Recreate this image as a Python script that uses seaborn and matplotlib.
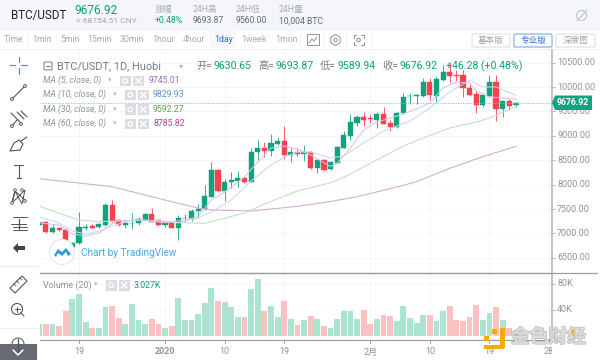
import numpy as np
import pandas as pd
import seaborn as sns
import matplotlib
matplotlib.use("Agg")
import matplotlib.pyplot as plt
import matplotlib.patheffects as pe
from matplotlib.patches import Rectangle, Circle, Polygon, FancyBboxPatch
from matplotlib.transforms import Bbox

sns.set_theme(style="white")
plt.rcParams['font.family'] = ['Roboto', 'Noto Sans CJK SC', 'DejaVu Sans']

# ---- data ----
days = list(range(-6, 67))
open_ = [7180,7226,7021,7110,7076,6714,6796,7117,7145,7124,7172,7575,7274,7172,7213,7213,7274,7390,7267,7165,7233,7104,7308,7295,7459,
         7507,7753,8300,7876,8054,8081,8142,8060,8661,8757,8689,8832,8894,8614,8668,8634,8661,8334,8504,8313,8436,8757,9000,9270,9385,
         9358,9324,9440,9263,9188,9461,9816,9823,9816,10096,9823,10144,10301,10246,10246,9987,9850,9632,9823,10110,9550,9713,9630.65]
high = [7250,7261,7192,7131,7104,6830,7431,7192,7192,7206,7616,7684,7288,7261,7425,7343,7411,7513,7288,7254,7247,7377,7390,7493,7609,
        7992,8470,8320,8115,8252,8279,8163,8757,8907,8873,9030,8982,9194,8757,8743,8818,8696,8525,8518,8491,8791,9100,9447,9433,9481,
        9447,9488,9597,9331,9481,9870,9870,9864,10178,10178,10226,10451,10506,10349,10342,10062,9918,9870,10246,10246,9730,9748,9693.87]
low = [7150,7001,7001,7042,6830,6470,6776,7069,7104,7117,7151,7240,7151,7104,7083,7172,7254,7226,7158,7138,7104,6871,7233,7254,7322,
       7480,7740,7856,7671,7924,7958,8040,8047,8504,8573,8593,8812,8518,8470,8593,8491,8327,8245,8279,8300,8436,8743,8914,9208,9208,
       9270,9167,9235,9106,9153,9447,9652,9659,9802,9734,9700,10123,10096,10123,9802,9816,9467,9584,9802,9310,9392,9529,9589.94]
close = [7230,7021,7104,7069,6851,6810,7138,7138,7117,7185,7588,7247,7172,7220,7220,7288,7390,7240,7172,7226,7117,7308,7315,7459,7506,
         7760,8300,7876,8054,8088,8142,8054,8668,8757,8689,8846,8894,8614,8668,8627,8661,8340,8504,8300,8457,8771,9017,9276,9379,9324,
         9338,9440,9249,9188,9474,9789,9823,9836,10096,9836,10157,10301,10232,10232,9987,9836,9632,9836,10110,9550,9713,9611,9676.92]
volume = [18,18,18,16,38,56.5,64.5,21,12,13,44.5,46,27,18,49,25,18,26,19,13,15,58.5,25,25,34,
          50,73.5,53.5,52,44.5,28.5,28.5,72.5,87,39,45.5,29,54,26,16.5,24,30,26,15.5,12,26,39,38,26,40,
          19,26,31.5,30,23.5,45.5,27,20.5,32.5,32.5,22.5,38,46.5,25,22.5,28.5,48,25,34.5,44.5,25,13,3.027]

ma5_d = [-6,-3,-1,1,3,5,6,10,13,16,18,20,22,25,27,29,31,33,35,38,39,41,43,45,48,51,53,55,57,59,60,62,64,66]
ma5_v = [7219,7172,6988,6947,7008,7193,7254,7275,7219,7275,7347,7685,7848,8156,8463,8750,8791,8730,8607,8371,8443,8750,9119,9283,9406,9549,9672,9980,10102,10082,9918,9795,9775,9745.01]
ma10_d = [-6,-3,-1,1,3,5,8,12,15,18,20,23,26,29,31,33,35,38,40,43,46,50,53,56,59,61,63,66]
ma10_v = [7336,7213,7049,6988,7049,7152,7275,7260,7219,7316,7439,7685,8074,8402,8566,8668,8668,8545,8586,8853,9098,9303,9570,9898,10143,10000,10000,9829.93]
ma30_d = [-6,-3,0,3,9,15,19,25,28,33,38,40,44,49,52,56,60,62,64,66]
ma30_v = [7561,7412,7275,7240,7275,7219,7207,7418,7602,7869,8039,8150,8436,8791,8955,9160,9283,9365,9482,9592.27]
ma60_d = [-6,5,14,18,20,26,33,38,42,44,48,51,56,60,63,66]
ma60_v = [8121,7957,7650,7520,7480,7459,7555,7654,7752,7818,7951,8060,8334,8525,8658,8785.82]

price_ticks = [10500, 10000, 9500, 9000, 8500, 8000, 7500, 7000, 6500]
vol_ticks = [80, 40]
date_ticks = [0, 13, 22, 31, 44, 53, 62, 71]
date_labels = ["19", "2020", "10", "19", "2月", "10", "19", "28"]
last_price = 9676.92

GREEN, RED = "#10A37E", "#F2434F"
VG, VR = "#ACE3D1", "#FCC2C2"
MA5C, MA10C, MA30C, MA60C = "#D6C3E6", "#C8D9F1", "#C3E0BE", "#D5A9CF"
GRAY = "#9A9DA5"

df = pd.DataFrame({"day": days, "open": open_, "high": high, "low": low, "close": close, "volume": volume})
df["dir"] = np.where(df["close"] >= df["open"], "up", "down")

W, H = 600, 360
fig = plt.figure(figsize=(6, 3.6), dpi=100, facecolor="white")

def axpx(x0, y0, x1, y1, **kw):
    return fig.add_axes([x0 / W, 1 - y1 / H, (x1 - x0) / W, (y1 - y0) / H], **kw)

ax = axpx(40, 49, 552, 273)
vx = axpx(40, 273, 552, 340)
xlim = (-5.89, 71.45)

# ---- price pane ----
ax.set_xlim(xlim)
ax.set_ylim(6189, 10779)
ax.set_yticks(price_ticks)
ax.set_xticks(date_ticks)
ax.grid(True, color="#F5F6F8", lw=0.7)
ax.tick_params(length=0, labelbottom=False, labelleft=False)
cols = df["dir"].map({"up": GREEN, "down": RED}).tolist()
ax.vlines(df["day"], df["low"], df["high"], colors=cols, lw=0.7, alpha=0.85, zorder=3)
ax.bar(df["day"], (df["close"] - df["open"]).abs(), bottom=df[["open", "close"]].min(axis=1),
       width=0.78, color=cols, edgecolor=cols, linewidth=0.3, zorder=4)
for d, v, c in [(ma60_d, ma60_v, MA60C), (ma30_d, ma30_v, MA30C), (ma10_d, ma10_v, MA10C), (ma5_d, ma5_v, MA5C)]:
    sns.lineplot(x=d, y=v, color=c, lw=0.75, ax=ax, estimator=None, sort=False, zorder=5)
ax.axhline(last_price, color="#6FCDB4", lw=0.6, ls=(0, (1.5, 1.5)), zorder=6)
ax.set_xlabel(""); ax.set_ylabel("")
for s in ax.spines.values():
    s.set_visible(False)

# ---- volume pane ----
sns.barplot(data=df, x="day", y="volume", hue="dir", native_scale=True, dodge=False, width=0.88,
            palette={"up": VG, "down": VR}, legend=False, ax=vx, saturation=1, zorder=3,
            linewidth=0, edgecolor="none")
vx.set_xlim(xlim)
vx.set_ylim(-6.15, 96.5)
vx.set_xticks(date_ticks)
vx.set_yticks(vol_ticks)
vx.grid(True, color="#F5F6F8", lw=0.7)
vx.set_axisbelow(True)
vx.tick_params(length=0, labelbottom=False, labelleft=False)
vx.set_xlabel(""); vx.set_ylabel("")
for s in vx.spines.values():
    s.set_visible(False)
vx.spines["top"].set_visible(True); vx.spines["top"].set_color(GRAY); vx.spines["top"].set_linewidth(0.9)
vx.spines["bottom"].set_visible(True); vx.spines["bottom"].set_color(GRAY); vx.spines["bottom"].set_linewidth(0.9)

# ---- overlay in pixel space: axis labels, header, toolbar ----
ov = fig.add_axes([0, 0, 1, 1], facecolor="none")
ov.set_xlim(0, W); ov.set_ylim(H, 0); ov.axis("off")

def T(x, y, s, size=6.2, color="#8F929A", ha="left", **kw):
    return ov.text(x, y, s, fontsize=size, color=color, ha=ha, va="center", **kw)

def L(xs, ys, color="#50535E", lw=0.8, **kw):
    ov.plot(xs, ys, color=color, lw=lw, solid_capstyle="round", **kw)

def R(x, y, w, h, **kw):
    ov.add_patch(Rectangle((x, y), w, h, **kw))

def price_y(p):
    return 49 + (10779 - p) / (10779 - 6189) * 224

def vol_y(v):
    return 273 + (96.5 - v) / (96.5 + 6.15) * 67

# header / tabs
R(0, 0, 600, 30.5, color="#F4F6F9", lw=0)
L([0, 600], [48.5, 48.5], color="#EDEFF2", lw=0.7)
T(11, 15.5, "BTC/USDT", size=8.4, color="#1E2026")
T(74, 10.5, "9676.92", size=8.6, color="#0E9E78")
T(76, 20.8, "≈ 68754.51 CNY", size=6, color="#A4A7AE")
for x, a, b, c in [(155, "涨幅", "+0.48%", "#0E9E78"), (193, "24H高", "9693.87", "#666972"),
                   (236, "24H低", "9560.00", "#666972"), (279, "24H量", "10,004 BTC", "#666972")]:
    T(x, 9.5, a, size=6.3, color="#A8ABB2")
    T(x, 20.8, b, size=6.2, color=c)
ov.add_patch(Circle((581.5, 15.5), 5, fc="none", ec="#C6C9CE", lw=0.9))
L([577, 587], [21, 10], color="#C6C9CE", lw=0.9)

R(209, 31, 27, 17, color="#F6F8FB", lw=0)
for x, s in [(4, "Time"), (32, "1min"), (60, "5min"), (87, "15min"), (120, "30min"), (152, "1hour"),
             (183, "4hour"), (214, "1day"), (241, "1week"), (275, "1mon")]:
    T(x, 39.5, s, size=6.3, color="#3E6FC4" if s == "1day" else "#A8ABB2")
for x in [27, 300, 323, 346, 371]:
    L([x, x], [32, 47], color="#F0F1F4", lw=0.6)
R(307, 34, 12, 11, fc="none", ec="#8E9199", lw=0.7)
L([309, 312, 314, 317], [43, 39, 41, 37], color="#8E9199", lw=0.7)
th = np.linspace(0, 2 * np.pi, 7) + np.pi / 6
ov.add_patch(Polygon(np.c_[335.5 + 5.5 * np.cos(th), 40 + 5.5 * np.sin(th)], fc="none", ec="#8E9199", lw=0.7))
ov.add_patch(Circle((335.5, 40), 1.8, fc="none", ec="#8E9199", lw=0.7))
for sx in (-1, 1):
    for sy in (-1, 1):
        L([358.5 + sx * 5, 358.5 + sx * 5, 358.5 + sx * 2.5], [40 + sy * 2, 40 + sy * 5, 40 + sy * 5], color="#8E9199", lw=0.7)
ov.add_patch(Circle((358.5, 40), 1.8, fc="none", ec="#8E9199", lw=0.7))
for x0, x1, s, ec, c in [(472, 510, "基本版", "#DDDFE3", "#A0A3AA"), (514, 552, "专业版", "#7EA6E0", "#3E6FC4"),
                         (556, 595, "深度图", "#DDDFE3", "#A0A3AA")]:
    ov.add_patch(FancyBboxPatch((x0, 34), x1 - x0, 13, boxstyle="round,pad=0,rounding_size=1.5", fc="white", ec=ec, lw=0.8))
    T((x0 + x1) / 2, 40.5, s, size=6.2, color=c, ha="center")

# chart legend
ov.add_patch(FancyBboxPatch((44, 62), 8, 8, boxstyle="round,pad=0,rounding_size=1", fc="none", ec="#787B86", lw=0.7))
L([46, 50], [66, 66], color="#787B86", lw=0.7)
T(57, 66, "BTC/USDT, 1D, Huobi", size=7.9, color="#787B86")
T(179, 66, "▾", size=6, color="#B4B7BE")
for x, lab, xv, val in [(196, "开=", 213, "9630.65"), (258, "高=", 275, "9693.87"),
                        (320, "低=", 338, "9589.94"), (382, "收=", 400, "9676.92")]:
    T(x, 66, lab, size=7.4, color="#787B86")
    T(xv, 66, val, size=7.6, color="#0E9E78")
T(446, 66, "+46.28 (+0.48%)", size=7.6, color="#0E9E78")

def box_icons(x1, x2, y):
    for x in (x1, x2):
        R(x, y - 5, 10.5, 10.5, color="#DCDDE0", lw=0)
    ov.add_patch(Circle((x1 + 5.2, y + 0.2), 2.2, fc="none", ec="white", lw=0.9))
    L([x2 + 2.5, x2 + 8], [y - 2.5, y + 3], color="white", lw=1)
    L([x2 + 8, x2 + 2.5], [y - 2.5, y + 3], color="white", lw=1)

for y, s, xa, x1, x2, xv, val, c in [
    (80.7, "MA (5, close, 0)", 108, 120, 133, 149, "9745.01", "#9A6BBE"),
    (94.7, "MA (10, close, 0)", 113, 125, 138, 153, "9829.93", "#5E92CC"),
    (109.3, "MA (30, close, 0)", 113, 125, 138, 153, "9592.27", "#5F9E52"),
    (123.7, "MA (60, close, 0)", 113, 125, 138, 153, "8785.82", "#A8459A")]:
    T(43, y, s, size=6.3, color="#8F929A", style="italic")
    T(xa, y, "▾", size=5, color="#B4B7BE")
    box_icons(x1, x2, y)
    T(xv, y, val, size=6.3, color=c)
T(43, 285, "Volume (20)", size=6.4)
T(94, 285, "▾", size=5, color="#B4B7BE")
box_icons(106, 119, 285)
T(134, 285, "3.027K", size=6.3, color="#0E9E78")

# TradingView badge
ov.add_patch(Circle((62, 252), 12.5, fc="white", ec="#E4E6EA", lw=0.8, zorder=6))
ov.add_patch(Polygon([[54, 255], [58, 249], [62, 252], [66, 248], [71, 254], [68, 256], [66, 252], [62, 256], [58, 253], [56, 257]],
                     fc="#2E9BE0", ec="none", zorder=7))
T(81, 253, "Chart by TradingView", size=7.2, color="#4CA6E2", zorder=7)

# right axis
L([552, 552], [50, 340], color="#B6B9C0", lw=1.2)
L([40, 597], [273, 273], color=GRAY, lw=0.9)
for p in price_ticks:
    y = price_y(p)
    L([552, 555], [y, y], color="#B6B9C0", lw=0.7)
    T(557, y, f"{p:.2f}", size=6.5)
for v in vol_ticks:
    y = vol_y(v)
    L([552, 555], [y, y], color="#B6B9C0", lw=0.7)
    T(557, y, f"{v}K", size=6.5)
ov.add_patch(Polygon([[552, price_y(last_price)], [555, 95.5], [592, 95.5], [592, 110], [555, 110]], fc="#12A37F", ec="none", zorder=6))
T(557, price_y(last_price), f"{last_price:.2f}", size=6.3, color="white", weight="bold", zorder=7)

# x tick labels
for d, s in zip(date_ticks, date_labels):
    x = 40 + (d - xlim[0]) / (xlim[1] - xlim[0]) * 512
    L([x, x], [340, 342.5], color=GRAY, lw=0.7)
    t = T(x, 352, s, size=6.5, ha="center", weight="bold" if s == "2020" else "normal")
    if d == 71:
        t.set_clip_on(True)
        t.set_clip_box(Bbox([[0, 0], [552, H]]))

# left toolbar
C = "#50535E"
B = "#3E9CC4"
L([10, 15], [65, 65], color=B, lw=0.9); L([21, 27], [65, 65], color=B, lw=0.9)
L([18.5, 18.5], [57, 62], color=B, lw=0.9); L([18.5, 18.5], [68, 74], color=B, lw=0.9)
L([13, 24], [98, 87], color=C)
ov.add_patch(Circle((12, 99), 1.4, fc="white", ec=C, lw=0.7, zorder=4))
ov.add_patch(Circle((25, 86), 1.4, fc="white", ec=C, lw=0.7, zorder=4))
L([11, 21], [113, 123], color=C); L([17, 24], [112, 119], color=C); L([21, 27], [111, 117], color=C); L([12, 17], [126, 120], color=C)
ov.add_patch(Circle((12, 126), 1.4, fc="white", ec=C, lw=0.7, zorder=4))
ov.add_patch(Circle((21, 124), 1.4, fc="white", ec=C, lw=0.7, zorder=4))
ov.add_patch(Polygon([[10, 151], [14, 143], [19, 140], [23, 144], [20, 150]], fc="none", ec=C, lw=0.8))
L([21, 27], [141, 137], color=C)
L([18.5, 18.5], [165, 178], color=C); L([14, 23], [165, 165], color=C); L([16.5, 20.5], [178, 178], color=C)
L([12, 15, 22, 25, 19, 12, 15, 25], [203, 191, 204, 190, 196, 203, 191, 200], color=C, lw=0.7)
for xc, yc in [(15, 190), (12, 203), (22, 190), (25, 201)]:
    ov.add_patch(Circle((xc, yc), 1.3, fc="white", ec=C, lw=0.6, zorder=4))
for yy in (217, 227, 230):
    L([13, 27], [yy, yy], color=C, lw=0.7)
L([11, 26], [224, 224], color=C, lw=0.7)
L([18.5, 18.5], [219, 229], color=C, lw=0.9)
ov.add_patch(Polygon([[13, 248], [18, 243], [18, 246], [25, 246], [25, 250], [18, 250], [18, 253]], fc="#3F424D", ec="none"))
L([0, 38], [266, 266], color="#ECEEF1", lw=0.7)
ov.add_patch(Polygon([[10, 288], [22, 276], [27, 281], [15, 293]], fc="none", ec=C, lw=0.8))
for xx, yy in [(14, 284), (17, 281), (20, 278)]:
    L([xx, xx + 2], [yy, yy + 2], color=C, lw=0.6)
ov.add_patch(Circle((17, 309), 5.5, fc="none", ec=C, lw=0.8))
L([21, 24], [313, 316], color=C, lw=0.8); L([14.5, 19.5], [309, 309], color=C, lw=0.7); L([17, 17], [306.5, 311.5], color=C, lw=0.7)
L([0, 38], [328, 328], color="#ECEEF1", lw=0.7)
R(0, 344, 37, 16, color="#676A74", lw=0, zorder=3)
ov.add_patch(Circle((18, 344), 6, fc="white", ec=C, lw=0.7, zorder=2))
L([18, 18], [339, 351], color=C, lw=0.9, zorder=4)
L([13, 18, 23], [350, 355, 350], color="white", lw=1.1, zorder=4)

# watermark
O = "#F6AB00"
for x, y, w, h in [(500, 328, 4.5, 20), (484, 345, 20, 4), (492, 329, 5, 4.5), (484, 336, 5, 5)]:
    R(x, y, w, h, color=O, lw=0, zorder=8)
wm = T(511, 337.5, "金色财经", size=13.5, color="#DADADA", weight="bold", zorder=8)
wm.set_path_effects([pe.withStroke(linewidth=1.0, foreground="#B4B4B4"), pe.Normal()])
L([572, 574], [334, 330], color=O, lw=1.2, zorder=9)

fig.savefig("out.png", dpi=100)
